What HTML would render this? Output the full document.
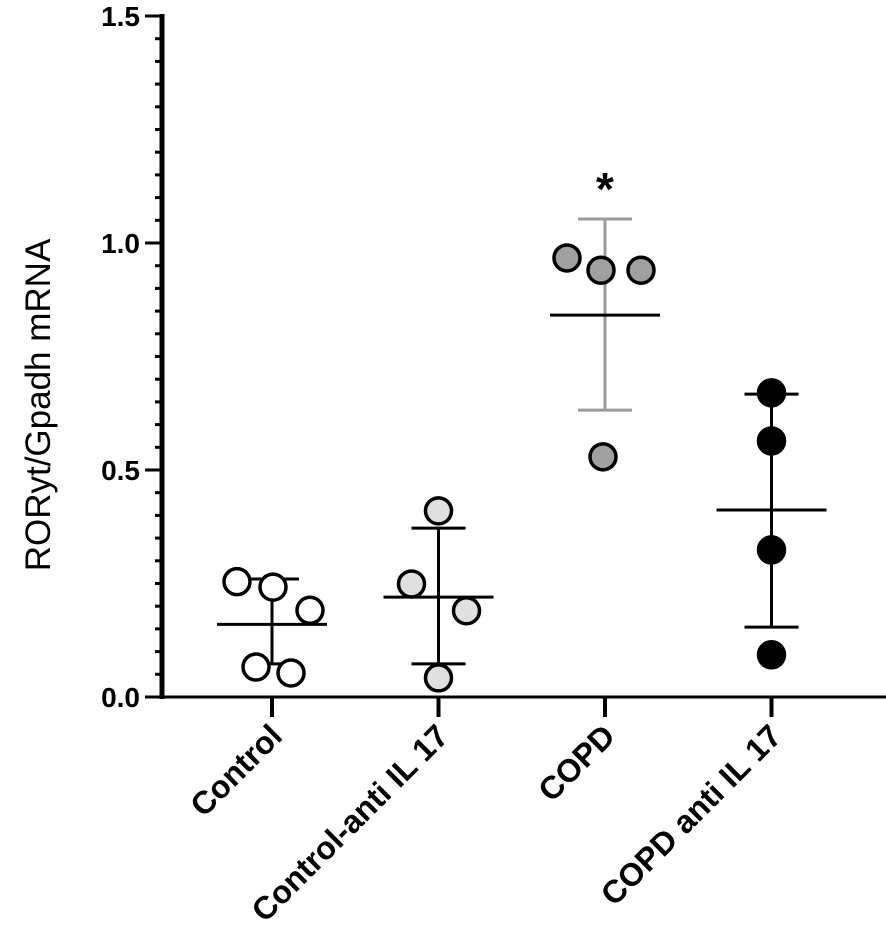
<!DOCTYPE html>
<html><head><meta charset="utf-8"><style>
html,body{margin:0;padding:0;background:#fff;}
svg{display:block;font-family:"Liberation Sans",Arial,sans-serif;}
</style></head><body>
<svg id="chart" width="886" height="933" viewBox="0 0 886 933" xmlns="http://www.w3.org/2000/svg">
<g id="axes"></g>
<g id="marks"></g>
</svg>
<script>
const categories = ["Control","Control-anti IL 17","COPD","COPD anti IL 17"];
const pointsControl = [0.254,0.242,0.191,0.066,0.053];
const pointsControlAnti = [0.41,0.249,0.19,0.042];
const pointsCOPD = [0.967,0.94,0.94,0.529];
const pointsCOPDAnti = [0.67,0.564,0.324,0.093];
const jitter = [[-35,1,38,-16,19],[0,-27,28,0],[-38,-4,36,-2],[0,0,0,0]];
const means = [0.16,0.22,0.841,0.412];
const sdLow = [0.073,0.073,0.632,0.154];
const sdHigh = [0.26,0.372,1.053,0.667];
const yTicks = [0,0.5,1.0,1.5];
const yTickLabels = ["0.0","0.5","1.0","1.5"];
const fills = ["#ffffff","#e0e0e0","#a0a0a0","#000000"];
const barColors = ["#000","#000","#9a9a9a","#000"];
const groups = [pointsControl,pointsControlAnti,pointsCOPD,pointsCOPDAnti];

const NS="http://www.w3.org/2000/svg";
const y = v => 697 - v*454;
const x = i => 272 + i*166.5;
function mk(tag, attrs, parent){const e=document.createElementNS(NS,tag);for(const k in attrs)e.setAttribute(k,attrs[k]);parent.appendChild(e);return e;}
const axes=document.getElementById('axes'), marks=document.getElementById('marks');

let e=mk('line',{x1:162,y1:y(1.5)-2,x2:162,y2:699,stroke:'#000','stroke-width':5},axes);


e=mk('line',{x1:160,y1:697,x2:886,y2:697,stroke:'#000','stroke-width':3},axes);


for(let k=0;k<=30;k++){
  const v=k*0.05, major=k%10===0;
  e=mk('line',{x1:major?145:155,y1:y(v),x2:162,y2:y(v),stroke:'#000','stroke-width':3},axes);
  
  
}
yTicks.forEach((v,i)=>{
  const t=mk('text',{x:140,y:y(v)+10,'text-anchor':'end',style:'font-size:28px;font-weight:bold'},axes);
  t.textContent=yTickLabels[i];
  
  
});
e=mk('text',{transform:'translate(50,405) rotate(-90)','text-anchor':'middle',style:'font-size:35px'},axes);
e.textContent='RORyt/Gpadh mRNA';


categories.forEach((c,i)=>{
  e=mk('line',{x1:x(i),y1:697,x2:x(i),y2:717,stroke:'#000','stroke-width':4},axes);
  
  
  const t=mk('text',{transform:`translate(${x(i)+12},${738}) rotate(-45)`,'text-anchor':'end',style:'font-size:32px;font-weight:bold'},axes);
  t.textContent=c;
  
  
});

groups.forEach((g,i)=>{
  const col=barColors[i], cx=x(i);
  e=mk('line',{x1:cx,y1:y(sdHigh[i]),x2:cx,y2:y(sdLow[i]),stroke:col,'stroke-width':3},marks);
  
  
  [sdHigh[i],sdLow[i]].forEach(v=>{
    e=mk('line',{x1:cx-27,y1:y(v),x2:cx+27,y2:y(v),stroke:col,'stroke-width':3},marks);
    
    
  });
  e=mk('line',{x1:cx-55,y1:y(means[i]),x2:cx+55,y2:y(means[i]),stroke:'#000','stroke-width':3},marks);
  
  
  g.forEach((v,j)=>{
    const p=mk('circle',{cx:cx+jitter[i][j],cy:y(v),r:13,fill:fills[i],stroke:'#000','stroke-width':3.5},marks);
    
    
  });
});
e=mk('text',{x:x(2),y:205,'text-anchor':'middle',style:'font-size:46px;font-weight:bold'},marks);
e.textContent='*';


</script>
</body></html>
